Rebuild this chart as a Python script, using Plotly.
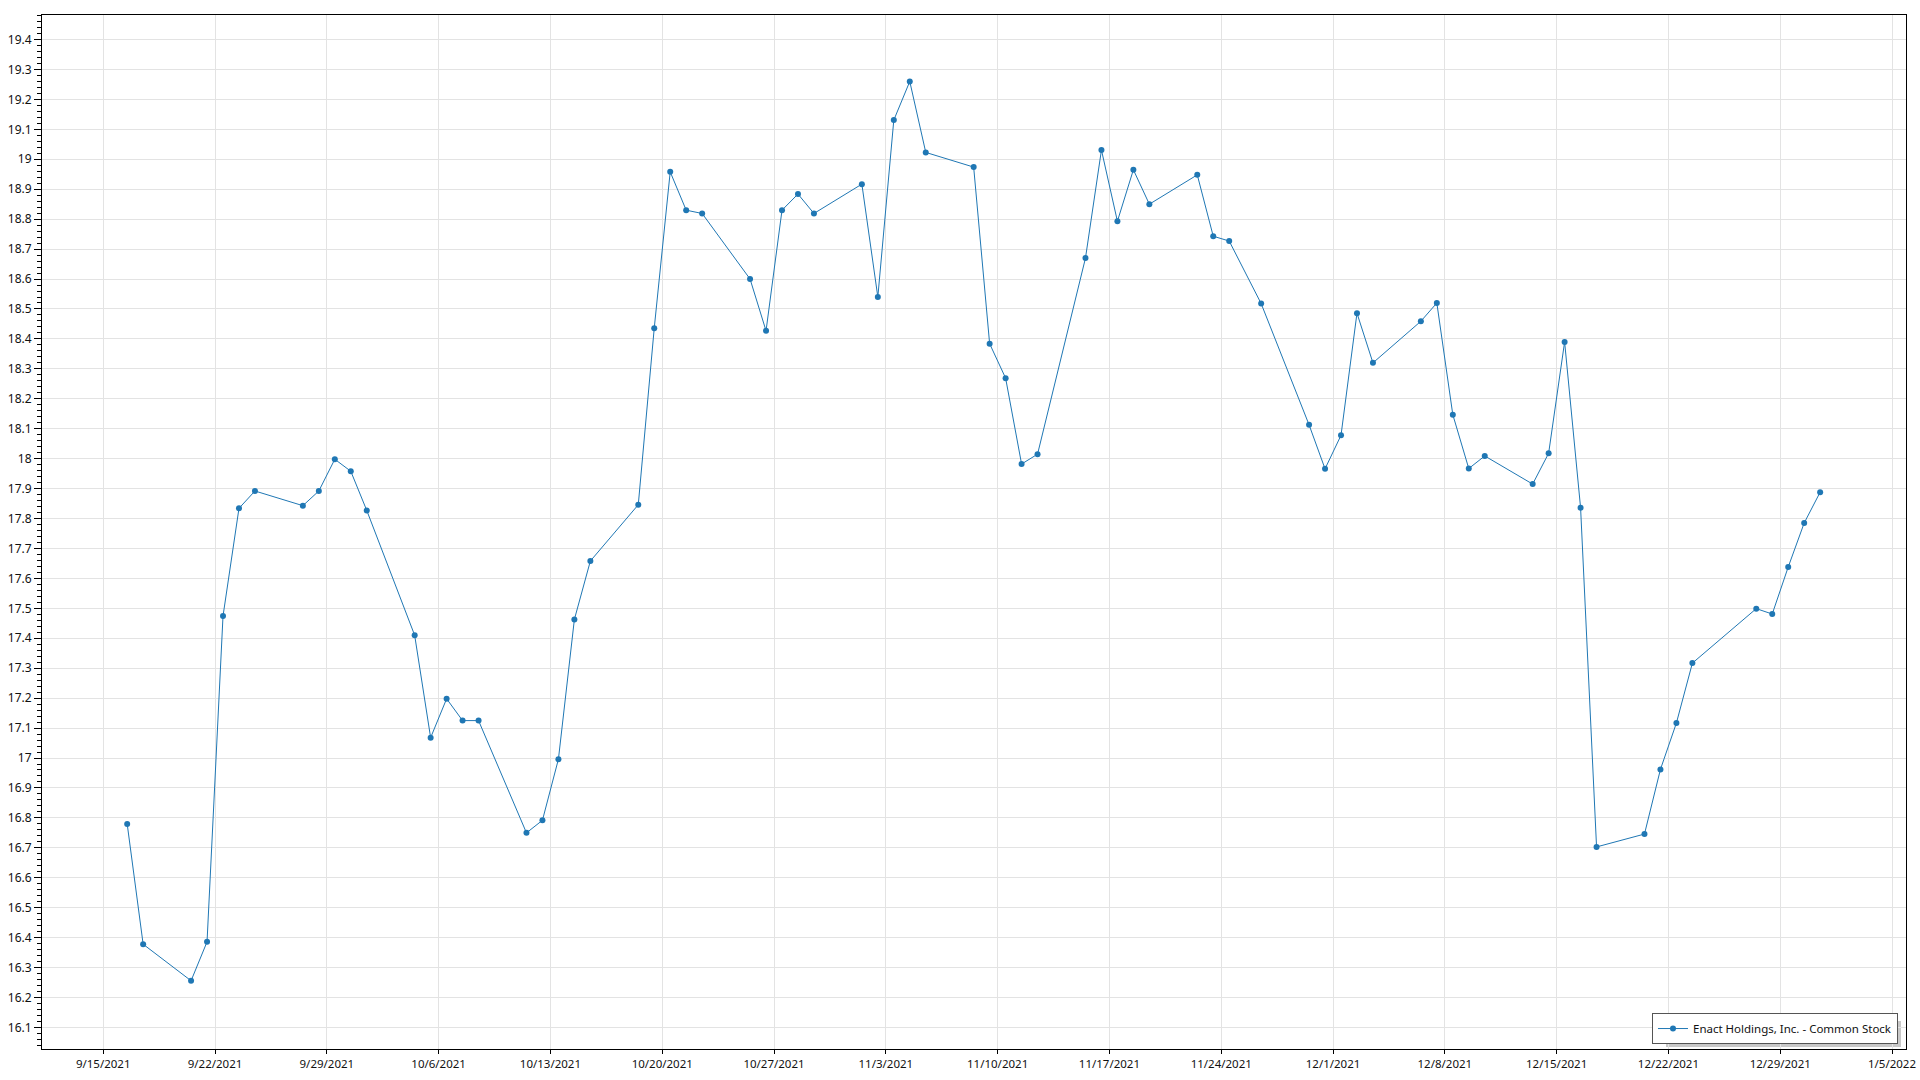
import plotly.graph_objects as go

dates = [
    "2021-09-16", "2021-09-17", "2021-09-20", "2021-09-21", "2021-09-22", "2021-09-23", "2021-09-24",
    "2021-09-27", "2021-09-28", "2021-09-29", "2021-09-30", "2021-10-01",
    "2021-10-04", "2021-10-05", "2021-10-06", "2021-10-07", "2021-10-08",
    "2021-10-11", "2021-10-12", "2021-10-13", "2021-10-14", "2021-10-15",
    "2021-10-18", "2021-10-19", "2021-10-20", "2021-10-21", "2021-10-22",
    "2021-10-25", "2021-10-26", "2021-10-27", "2021-10-28", "2021-10-29",
    "2021-11-01", "2021-11-02", "2021-11-03", "2021-11-04", "2021-11-05",
    "2021-11-08", "2021-11-09", "2021-11-10", "2021-11-11", "2021-11-12",
    "2021-11-15", "2021-11-16", "2021-11-17", "2021-11-18", "2021-11-19",
    "2021-11-22", "2021-11-23", "2021-11-24", "2021-11-26",
    "2021-11-29", "2021-11-30", "2021-12-01", "2021-12-02", "2021-12-03",
    "2021-12-06", "2021-12-07", "2021-12-08", "2021-12-09", "2021-12-10",
    "2021-12-13", "2021-12-14", "2021-12-15", "2021-12-16", "2021-12-17",
    "2021-12-20", "2021-12-21", "2021-12-22", "2021-12-23",
    "2021-12-27", "2021-12-28", "2021-12-29", "2021-12-30", "2021-12-31",
]

prices = [
    16.78, 16.378, 16.256, 16.386, 17.474, 17.834, 17.892,
    17.843, 17.892, 17.998, 17.958, 17.827,
    17.41, 17.068, 17.198, 17.125, 17.125,
    16.75, 16.792, 16.996, 17.463, 17.658,
    17.846, 18.436, 18.958, 18.83, 18.819,
    18.6, 18.427, 18.83, 18.884, 18.819,
    18.917, 18.54, 19.131, 19.26, 19.023,
    18.974, 18.384, 18.269, 17.982, 18.015,
    18.67, 19.031, 18.793, 18.965, 18.85,
    18.948, 18.743, 18.727, 18.518,
    18.113, 17.966, 18.078, 18.486, 18.32,
    18.459, 18.52, 18.147, 17.967, 18.009,
    17.915, 18.018, 18.39, 17.836, 16.703,
    16.746, 16.962, 17.117, 17.317,
    17.499, 17.481, 17.638, 17.785, 17.888,
]

series_name = "Enact Holdings, Inc. - Common Stock"

# points are drawn at mid-day of each trading date
x_vals = [d + " 12:00" for d in dates]

FONT = "Noto Sans, Open Sans, sans-serif"
COLOR = "#1f77b4"

fig = go.Figure()
fig.add_trace(go.Scatter(
    x=x_vals, y=prices, name=series_name, mode="lines+markers",
    line=dict(color=COLOR, width=1),
    marker=dict(color=COLOR, size=6),
    showlegend=True,
))

# legend drop shadow (paper coords of plot area: 1864 x 1034 px)
fig.add_shape(
    type="rect", xref="paper", yref="paper", layer="below",
    x0=1 - 240 / 1864, x1=1 - 5 / 1864, y0=2 / 1034, y1=28 / 1034,
    fillcolor="#c8c8c8", line=dict(width=0),
)

fig.update_layout(
    width=1920, height=1080,
    margin=dict(l=42, r=14, t=15, b=31),
    paper_bgcolor="white", plot_bgcolor="white",
    font=dict(family=FONT, size=12, color="#111"),
    showlegend=True,
    legend=dict(
        x=0.9957, y=0.0048, xanchor="right", yanchor="bottom",
        bgcolor="white", bordercolor="#555", borderwidth=1,
        font=dict(family=FONT, size=11.5, color="#111"),
    ),
    xaxis=dict(
        type="date", automargin=False,
        range=["2021-09-11 04:00", "2022-01-05 21:00"],
        tick0="2021-09-15", dtick=7 * 24 * 3600 * 1000,
        tickformat="%-m/%-d/%Y",
        tickfont=dict(size=11.5),
        showgrid=True, gridcolor="#e3e3e3", gridwidth=1,
        showline=True, linecolor="black", linewidth=1, mirror=True,
        ticks="outside", ticklen=4, tickcolor="black",
        zeroline=False,
    ),
    yaxis=dict(
        automargin=False,
        range=[16.028, 19.482],
        tick0=16, dtick=0.1,
        showgrid=True, gridcolor="#e3e3e3", gridwidth=1,
        showline=True, linecolor="black", linewidth=1, mirror=True,
        ticks="outside", ticklen=7, tickcolor="black",
        minor=dict(dtick=0.02, ticks="outside", ticklen=4, tickcolor="black", showgrid=False),
        zeroline=False,
    ),
)

fig.write_html(
    "out.html",
    config={"displayModeBar": False},
    post_script="document.body.style.margin='0';document.body.style.overflow='hidden';",
)
